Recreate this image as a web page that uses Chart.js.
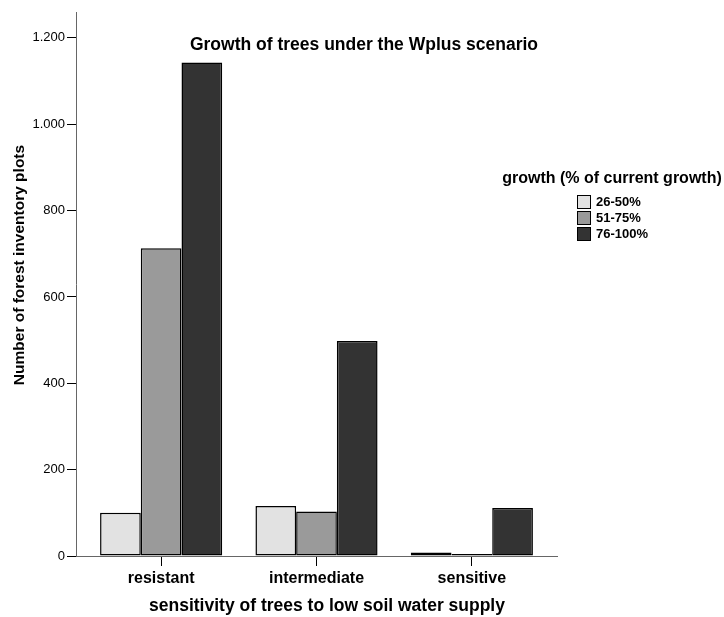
<!DOCTYPE html>
<html>
<head>
<meta charset="utf-8">
<script src="https://cdn.jsdelivr.net/npm/chart.js@4/dist/chart.umd.min.js"></script>
<style>
html,body{margin:0;padding:0;background:#fff;}
#wrap{width:724px;height:617px;}
</style>
</head>
<body>
<div id="wrap"><canvas id="c" width="724" height="617"></canvas></div>
<script>
const categories = ["resistant", "intermediate", "sensitive"];
const seriesNames = ["26-50%", "51-75%", "76-100%"];
const growth26to50 = [100, 116, 8];
const growth51to75 = [713, 103, 1];
const growth76to100 = [1143, 498, 111];
const yTicks = [0, 200, 400, 600, 800, 1000, 1200];
const yMax = 1260;
const chartTitle = "Growth of trees under the Wplus scenario";
const xTitle = "sensitivity of trees to low soil water supply";
const yTitle = "Number of forest inventory plots";
const legendTitle = "growth (% of current growth)";
const colors = ["#e2e2e2", "#9a9a9a", "#333333"];

const FONT = "Arial, 'Liberation Sans', Helvetica, sans-serif";
const CAT_PAD = 0.048; // extra space at each end of the category axis

function fmt(v){ return String(v).replace(/\B(?=(\d{3})+(?!\d))/g, "."); }

const annotations = {
  id: "annotations",
  afterDraw(chart){
    const ctx = chart.ctx;
    ctx.save();
    ctx.fillStyle = "#000";
    ctx.textBaseline = "middle";
    ctx.textAlign = "center";
    // chart title
    ctx.font = "bold 17.5px " + FONT;
    ctx.fillText(chartTitle, 364, 45);
    // x title
    ctx.fillText(xTitle, 327, 606);
    // y title
    ctx.font = "bold 15.5px " + FONT;
    ctx.save();
    ctx.translate(20, 265);
    ctx.rotate(-Math.PI/2);
    ctx.fillText(yTitle, 0, 0);
    ctx.restore();
    // legend
    ctx.font = "bold 16px " + FONT;
    ctx.fillText(legendTitle, 612, 179);
    ctx.textAlign = "left";
    ctx.font = "bold 13px " + FONT;
    chart.data.datasets.forEach((ds, i) => {
      const yc = 202 + i * 16;
      ctx.fillStyle = ds.backgroundColor;
      ctx.fillRect(577.5, yc - 6.5, 13, 13);
      ctx.strokeStyle = "#000";
      ctx.lineWidth = 1;
      ctx.strokeRect(577.5, yc - 6.5, 13, 13);
      ctx.fillStyle = "#000";
      ctx.fillText(ds.label, 596, yc + 0.5);
    });
    ctx.restore();
  }
};

const barStyle = { borderColor: "#000", borderWidth: 1.5, borderSkipped: false, minBarLength: 2 };

new Chart(document.getElementById("c"), {
  type: "bar",
  data: {
    labels: categories,
    datasets: [
      Object.assign({ label: seriesNames[0], data: growth26to50, backgroundColor: colors[0] }, barStyle),
      Object.assign({ label: seriesNames[1], data: growth51to75, backgroundColor: colors[1] }, barStyle),
      Object.assign({ label: seriesNames[2], data: growth76to100, backgroundColor: colors[2] }, barStyle)
    ]
  },
  options: {
    responsive: false,
    animation: false,
    devicePixelRatio: 1,
    layout: { padding: { top: 12, right: 167, bottom: 0, left: 0 } },
    datasets: {
      bar: {
        categoryPercentage: 0.786,
        barPercentage: 1.0
      }
    },
    plugins: {
      legend: { display: false },
      title: { display: false },
      tooltip: { enabled: false }
    },
    scales: {
      x: {
        type: "category",
        offset: true,
        afterBuildTicks(s){
          s._startValue = -0.5 - CAT_PAD;
          s._valueRange = categories.length + 2 * CAT_PAD;
        },
        afterFit(s){ s.height = 61; },
        border: { display: true, color: "#666", width: 1 },
        grid: { display: true, offset: false, drawOnChartArea: false, drawTicks: true, tickLength: 10, color: "#000", lineWidth: 1 },
        ticks: { color: "#000", padding: 3, font: { family: FONT, size: 16, weight: "bold" }, maxRotation: 0 }
      },
      y: {
        type: "linear",
        min: 0,
        max: yMax,
        afterBuildTicks(s){ s.ticks = yTicks.map(v => ({ value: v })); },
        afterFit(s){ s.width = 76; },
        border: { display: true, color: "#666", width: 1 },
        grid: { display: true, drawOnChartArea: false, drawTicks: true, tickLength: 9, color: "#000", lineWidth: 1 },
        ticks: { color: "#000", padding: 2, font: { family: FONT, size: 13 }, callback: v => fmt(v) }
      }
    }
  },
  plugins: [annotations]
});
</script>
</body>
</html>
